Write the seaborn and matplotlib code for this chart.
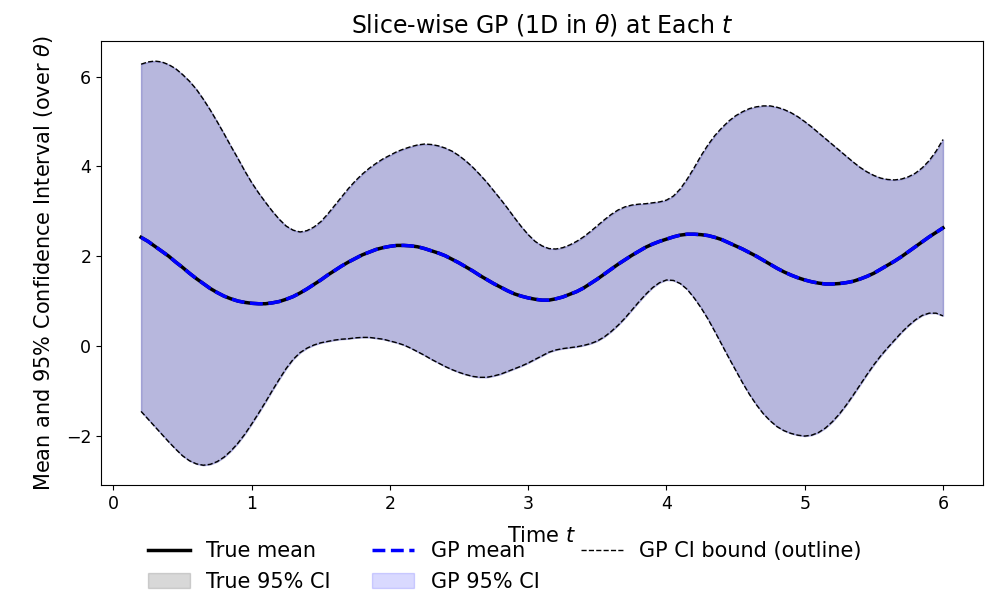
import numpy as np
import pandas as pd
import matplotlib
matplotlib.use("Agg")
import matplotlib.pyplot as plt
import seaborn as sns

# Time grid
t = [0.20, 0.25, 0.30, 0.35, 0.40, 0.45, 0.50, 0.55, 0.60, 0.65,
     0.70, 0.75, 0.80, 0.85, 0.90, 0.95, 1.00, 1.05, 1.10, 1.15,
     1.20, 1.25, 1.30, 1.35, 1.40, 1.45, 1.50, 1.55, 1.60, 1.65,
     1.70, 1.75, 1.80, 1.85, 1.90, 1.95, 2.00, 2.05, 2.10, 2.15,
     2.20, 2.25, 2.30, 2.35, 2.40, 2.45, 2.50, 2.55, 2.60, 2.65,
     2.70, 2.75, 2.80, 2.85, 2.90, 2.95, 3.00, 3.05, 3.10, 3.15,
     3.20, 3.25, 3.30, 3.35, 3.40, 3.45, 3.50, 3.55, 3.60, 3.65,
     3.70, 3.75, 3.80, 3.85, 3.90, 3.95, 4.00, 4.05, 4.10, 4.15,
     4.20, 4.25, 4.30, 4.35, 4.40, 4.45, 4.50, 4.55, 4.60, 4.65,
     4.70, 4.75, 4.80, 4.85, 4.90, 4.95, 5.00, 5.05, 5.10, 5.15,
     5.20, 5.25, 5.30, 5.35, 5.40, 5.45, 5.50, 5.55, 5.60, 5.65,
     5.70, 5.75, 5.80, 5.85, 5.90, 5.95, 6.00]

# Mean over theta at each t
mean = [2.42, 2.33, 2.22, 2.11, 2.00, 1.87, 1.75, 1.62, 1.50, 1.39,
        1.28, 1.19, 1.11, 1.05, 1.00, 0.97, 0.95, 0.94, 0.94, 0.96,
        0.99, 1.04, 1.10, 1.18, 1.27, 1.37, 1.47, 1.58, 1.68, 1.78,
        1.87, 1.95, 2.03, 2.09, 2.15, 2.19, 2.22, 2.24, 2.24, 2.23,
        2.21, 2.17, 2.12, 2.07, 2.01, 1.93, 1.85, 1.76, 1.67, 1.57,
        1.48, 1.39, 1.31, 1.23, 1.16, 1.11, 1.07, 1.04, 1.02, 1.02,
        1.05, 1.09, 1.15, 1.21, 1.29, 1.39, 1.49, 1.60, 1.71, 1.82,
        1.92, 2.02, 2.11, 2.20, 2.27, 2.33, 2.38, 2.43, 2.47, 2.49,
        2.49, 2.48, 2.46, 2.42, 2.37, 2.30, 2.23, 2.16, 2.08, 2.00,
        1.91, 1.82, 1.73, 1.65, 1.58, 1.52, 1.47, 1.43, 1.40, 1.38,
        1.38, 1.39, 1.41, 1.44, 1.49, 1.55, 1.62, 1.71, 1.80, 1.89,
        1.99, 2.10, 2.21, 2.32, 2.43, 2.53, 2.63]

# Upper 95% bound
upper = [6.28, 6.33, 6.35, 6.33, 6.27, 6.18, 6.05, 5.90, 5.72, 5.50,
         5.26, 5.00, 4.73, 4.45, 4.18, 3.90, 3.64, 3.41, 3.20, 3.00,
         2.82, 2.67, 2.58, 2.54, 2.57, 2.65, 2.77, 2.94, 3.13, 3.32,
         3.51, 3.68, 3.83, 3.96, 4.07, 4.17, 4.25, 4.33, 4.39, 4.44,
         4.48, 4.50, 4.49, 4.46, 4.41, 4.34, 4.24, 4.12, 3.98, 3.82,
         3.65, 3.46, 3.27, 3.07, 2.86, 2.66, 2.48, 2.33, 2.23, 2.17,
         2.16, 2.19, 2.25, 2.33, 2.43, 2.55, 2.68, 2.81, 2.93, 3.03,
         3.10, 3.14, 3.16, 3.17, 3.19, 3.21, 3.25, 3.34, 3.50, 3.72,
         3.97, 4.24, 4.48, 4.69, 4.86, 5.01, 5.13, 5.22, 5.29, 5.33,
         5.35, 5.35, 5.32, 5.27, 5.20, 5.11, 5.00, 4.88, 4.75, 4.62,
         4.49, 4.36, 4.23, 4.10, 3.98, 3.88, 3.80, 3.74, 3.71, 3.70,
         3.72, 3.77, 3.85, 3.97, 4.13, 4.34, 4.60]

# Lower 95% bound
lower = [-1.46, -1.63, -1.80, -1.97, -2.14, -2.30, -2.45, -2.56, -2.63, -2.66,
         -2.64, -2.58, -2.48, -2.34, -2.17, -1.97, -1.74, -1.50, -1.25, -0.99,
         -0.74, -0.50, -0.30, -0.15, -0.05, 0.02, 0.07, 0.10, 0.13, 0.15,
         0.16, 0.18, 0.19, 0.19, 0.17, 0.15, 0.11, 0.07, 0.02, -0.05,
         -0.13, -0.21, -0.30, -0.38, -0.46, -0.53, -0.59, -0.64, -0.68, -0.70,
         -0.70, -0.67, -0.63, -0.57, -0.51, -0.45, -0.38, -0.30, -0.22, -0.14,
         -0.09, -0.06, -0.04, -0.02, 0.01, 0.05, 0.11, 0.20, 0.32, 0.46,
         0.62, 0.80, 0.98, 1.15, 1.30, 1.41, 1.47, 1.46, 1.39, 1.26,
         1.07, 0.85, 0.60, 0.32, 0.03, -0.26, -0.54, -0.82, -1.08, -1.31,
         -1.51, -1.67, -1.80, -1.89, -1.95, -1.99, -2.01, -1.99, -1.93, -1.83,
         -1.69, -1.52, -1.32, -1.10, -0.87, -0.64, -0.42, -0.22, -0.04, 0.13,
         0.30, 0.45, 0.58, 0.68, 0.73, 0.73, 0.67]

df = pd.DataFrame({"t": t, "mean": mean, "lower": lower, "upper": upper})

plt.rcParams["font.family"] = ["DejaVu Sans"]

fig = plt.figure(figsize=(9.9, 5.92), dpi=100)
ax = fig.add_axes([0.102, 0.180, 0.891, 0.751])

# True mean and its interval
sns.lineplot(data=df, x="t", y="mean", color="k", lw=2.5, ax=ax,
             label="True mean", legend=False)
ax.fill_between(df["t"], df["lower"], df["upper"], color="gray", alpha=0.3,
                label="True 95% CI")

# GP posterior mean and interval
sns.lineplot(data=df, x="t", y="mean", color="b", lw=2.5, ax=ax,
             linestyle="--", label="GP mean", legend=False)
ax.fill_between(df["t"], df["lower"], df["upper"], color="b", alpha=0.15,
                label="GP 95% CI")

# Dashed outline of the GP interval
sns.lineplot(data=df, x="t", y="lower", color="k", lw=1, ax=ax,
             linestyle="--", label="GP CI bound (outline)", legend=False)
sns.lineplot(data=df, x="t", y="upper", color="k", lw=1, ax=ax,
             linestyle="--", legend=False)

ax.set_title(r"Slice-wise GP (1D in $\theta$) at Each $t$", fontsize=17)
ax.set_xlabel(r"Time $t$", fontsize=15, labelpad=9)
ax.set_ylabel(r"Mean and 95% Confidence Interval (over $\theta$)",
              fontsize=15, labelpad=7.5)
ax.tick_params(labelsize=12.5)

handles, labels = ax.get_legend_handles_labels()
fig.legend(handles, labels, loc="upper center", bbox_to_anchor=(0.51, 0.100),
           bbox_transform=fig.transFigure, ncol=3, frameon=False, fontsize=15,
           borderaxespad=0)

fig.savefig("out.png", dpi=100)
